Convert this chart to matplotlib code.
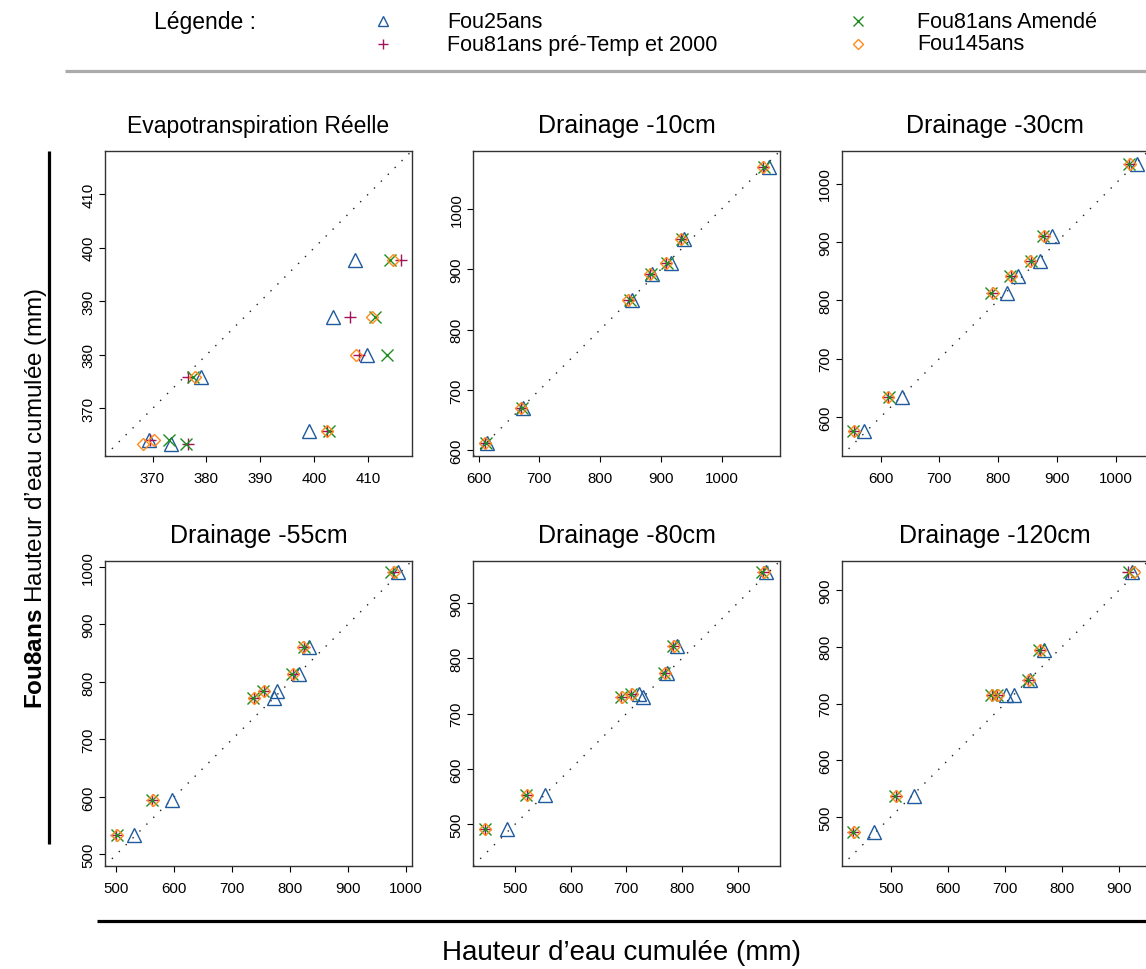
import matplotlib
matplotlib.use('Agg')
import matplotlib.pyplot as plt
from matplotlib.ticker import MultipleLocator

plt.rcParams['font.family'] = ['Liberation Sans', 'DejaVu Sans']
plt.rcParams['mathtext.fontset'] = 'custom'
plt.rcParams['mathtext.rm'] = 'Liberation Sans'
plt.rcParams['mathtext.bf'] = 'Liberation Sans:bold'

# series (x = compared site, y = Fou8ans reference)
names = ['Fou25ans', 'Fou81ans pré-Temp et 2000', 'Fou81ans Amendé', 'Fou145ans']
markers = ['^', '+', 'x', 'D']
colors = ['#1f5a9e', '#a0145a', '#1e8c1e', '#ff8a1a']
msizes = [9.5, 9, 9, 6]

titles = ['Evapotranspiration Réelle', 'Drainage -10cm', 'Drainage -30cm',
          'Drainage -55cm', 'Drainage -80cm', 'Drainage -120cm']
title_sizes = [16.5, 18, 18, 18, 18, 18]
steps = [10, 100, 100, 100, 100, 100]

# Evapotranspiration reelle
ref_etr = [397.8, 387.1, 379.9, 375.9, 365.8, 364.1, 363.3]
f25_etr = [407.6, 403.4, 409.8, 379.0, 399.0, 369.4, 373.4]
fpt_etr = [416.0, 406.6, 408.2, 376.5, 402.3, 369.5, 376.6]
fam_etr = [414.1, 411.2, 413.4, 377.5, 402.7, 373.1, 376.3]
f145_etr = [414.6, 410.7, 407.8, 377.9, 402.4, 370.3, 368.3]

# Drainage -10cm
ref_10 = [612.1, 669.9, 849.8, 891.6, 910.3, 950.5, 1069.9]
f25_10 = [614.0, 673.0, 852.0, 886.0, 916.0, 938.0, 1078.0]
fpt_10 = [611.0, 669.0, 847.0, 883.0, 909.0, 934.0, 1068.0]
fam_10 = [613.0, 671.0, 849.0, 884.0, 910.0, 935.0, 1070.0]
f145_10 = [610.0, 669.0, 846.0, 882.0, 909.0, 934.0, 1069.0]

# Drainage -30cm
ref_30 = [575.5, 634.2, 812.5, 842.2, 866.7, 909.4, 1033.0]
f25_30 = [571.0, 636.9, 814.2, 834.1, 871.0, 892.0, 1036.9]
fpt_30 = [554.0, 612.5, 789.8, 821.6, 855.1, 877.8, 1023.3]
fam_30 = [553.0, 614.0, 788.5, 820.5, 856.5, 876.5, 1022.0]
f145_30 = [555.0, 613.0, 790.5, 822.5, 854.5, 878.5, 1023.8]

# Drainage -55cm
ref_55 = [533.5, 594.1, 771.9, 784.6, 814.7, 860.9, 991.3]
f25_55 = [529.9, 596.0, 773.0, 777.6, 816.1, 833.3, 987.4]
fpt_55 = [500.0, 562.1, 737.4, 754.6, 804.6, 823.6, 977.5]
fam_55 = [500.5, 561.5, 736.5, 753.5, 803.5, 824.5, 974.5]
f145_55 = [501.0, 562.5, 738.0, 755.5, 805.5, 823.0, 979.0]

# Drainage -80cm
ref_80 = [491.0, 552.9, 730.4, 736.4, 773.7, 821.8, 955.9]
f25_80 = [486.8, 554.7, 730.4, 722.6, 773.7, 791.7, 951.1]
fpt_80 = [445.9, 521.1, 691.3, 709.3, 769.5, 784.5, 945.1]
fam_80 = [446.5, 520.5, 690.5, 708.0, 768.5, 783.5, 943.5]
f145_80 = [447.0, 521.5, 692.0, 710.5, 770.0, 785.5, 946.5]

# Drainage -120cm
ref_120 = [473.5, 536.6, 714.2, 715.2, 741.9, 793.8, 931.9]
f25_120 = [470.8, 540.9, 701.5, 716.6, 743.5, 768.6, 923.0]
fpt_120 = [434.0, 508.8, 676.9, 686.9, 741.2, 761.0, 916.0]
fam_120 = [434.5, 508.0, 676.0, 686.0, 740.5, 760.0, 917.0]
f145_120 = [435.0, 509.5, 677.5, 688.0, 742.0, 761.5, 926.3]

panels = [
    (ref_etr, [f25_etr, fpt_etr, fam_etr, f145_etr]),
    (ref_10, [f25_10, fpt_10, fam_10, f145_10]),
    (ref_30, [f25_30, fpt_30, fam_30, f145_30]),
    (ref_55, [f25_55, fpt_55, fam_55, f145_55]),
    (ref_80, [f25_80, fpt_80, fam_80, f145_80]),
    (ref_120, [f25_120, fpt_120, fam_120, f145_120]),
]

W, H = 1146, 970
fig = plt.figure(figsize=(W / 100, H / 100), dpi=100)

# overlay in pixel coords for legend, frame lines and outer labels
ov = fig.add_axes([0, 0, 1, 1], zorder=-1)
ov.set_xlim(0, W)
ov.set_ylim(H, 0)
ov.axis('off')

ov.text(154, 22, 'Légende :', fontsize=16.5, va='center', ha='left')
leg_pos = [(383, 447, 22), (383, 447, 45), (858, 917, 22), (858, 917, 45)]
for k, (mx, tx, yy) in enumerate(leg_pos):
    ov.plot([mx], [yy], ls='none', marker=markers[k], mfc='none', mec=colors[k],
            ms=msizes[k] * 0.8, mew=1.0)
    ov.text(tx, yy, names[k], fontsize=15.5, va='center', ha='left')
ov.plot([65, W], [72, 72], color='#ababab', lw=2.3, solid_capstyle='butt')

ov.plot([49, 49], [152, 845], color='black', lw=2.3, solid_capstyle='butt')
ov.plot([97, W], [922, 922], color='black', lw=2.3, solid_capstyle='butt')
ov.text(36, 499, r'$\mathbf{Fou8ans}$ Hauteur d’eau cumulée (mm)', rotation=90,
        fontsize=17.5, ha='center', va='center')
ov.text(622, 953, 'Hauteur d’eau cumulée (mm)', fontsize=20, ha='center', va='center')

col_left = [105, 473.3, 841.7]
row_top = [151.7, 561.7]
aw, ah = 307, 305

for i, (ref, xs) in enumerate(panels):
    r, c = divmod(i, 3)
    ax = fig.add_axes([col_left[c] / W, 1 - (row_top[r] + ah) / H, aw / W, ah / H])
    vals = list(ref)
    for s in xs:
        vals += list(s)
    lo, hi = min(vals), max(vals)
    pad = 0.04 * (hi - lo)
    ax.set_xlim(lo - pad, hi + pad)
    ax.set_ylim(lo - pad, hi + pad)
    ax.axline((lo, lo), slope=1, color='#222222', lw=1.0, ls=(0, (1, 6)))
    for k, s in enumerate(xs):
        ax.plot(s, ref, ls='none', marker=markers[k], mfc='none', mec=colors[k],
                ms=msizes[k], mew=1.0)
    ax.xaxis.set_major_locator(MultipleLocator(steps[i]))
    ax.yaxis.set_major_locator(MultipleLocator(steps[i]))
    ax.tick_params(direction='out', length=4.3, width=0.8, labelsize=10.8)
    ax.tick_params(axis='x', pad=7.0)
    ax.tick_params(axis='y', pad=2.7, labelrotation=90)
    for lab in ax.get_yticklabels():
        lab.set_va('center')
    for sp in ax.spines.values():
        sp.set_linewidth(1.0)
        sp.set_color('#333333')
    ax.text(0.5, 1 + 18.7 / ah, titles[i], transform=ax.transAxes,
            ha='center', va='baseline', fontsize=title_sizes[i])

fig.savefig('out.png', dpi=100)
